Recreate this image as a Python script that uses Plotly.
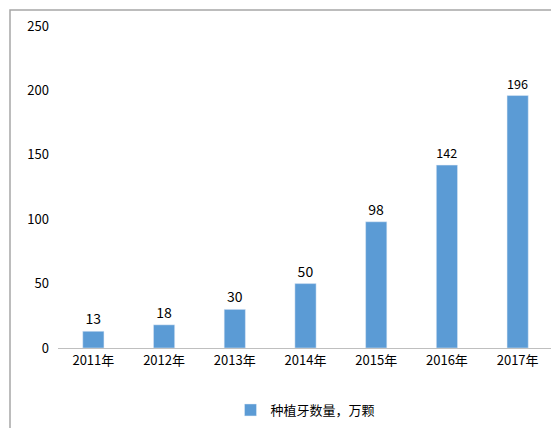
import plotly.graph_objects as go

years = ["2011年", "2012年", "2013年", "2014年", "2015年", "2016年", "2017年"]
implants = [13, 18, 30, 50, 98, 142, 196]
series_name = "种植牙数量，万颗"

W, H = 559, 428
ml, mr, mt, mb = 50, 14, 18, 88
pw, ph = W - ml - mr, H - mt - mb


def px(x):
    return (x - ml) / pw


def py(y):
    return (H - mb - y) / ph


fig = go.Figure()
fig.add_trace(go.Bar(
    x=years, y=implants, name=series_name,
    marker_color="#5B9BD5", width=0.3,
    text=implants, textposition="outside",
    textfont=dict(size=14, color="#000"),
    cliponaxis=False, showlegend=True,
))

fig.update_layout(
    width=W, height=H,
    margin=dict(l=ml, r=mr, t=mt, b=mb, autoexpand=False),
    plot_bgcolor="white", paper_bgcolor="white",
    font=dict(family="Noto Sans CJK SC, DejaVu Sans", size=13, color="#000"),
    xaxis=dict(showline=True, linecolor="#BFBFBF", ticks="", tickfont=dict(size=13),
               automargin=False),
    yaxis=dict(range=[0, 250], dtick=50, showgrid=False, zeroline=False,
               tickfont=dict(size=13), ticklabelstandoff=8, automargin=False),
    legend=dict(orientation="h", x=0.5, xanchor="center",
                yref="container", y=(H - 402) / H, yanchor="middle",
                font=dict(size=13)),
    shapes=[dict(type="rect", xref="paper", yref="paper",
                 x0=px(2), x1=px(556), y0=py(425), y1=py(2),
                 line=dict(color="#A6A6A6", width=1.5), layer="below")],
)

fig.write_html("out.html")
